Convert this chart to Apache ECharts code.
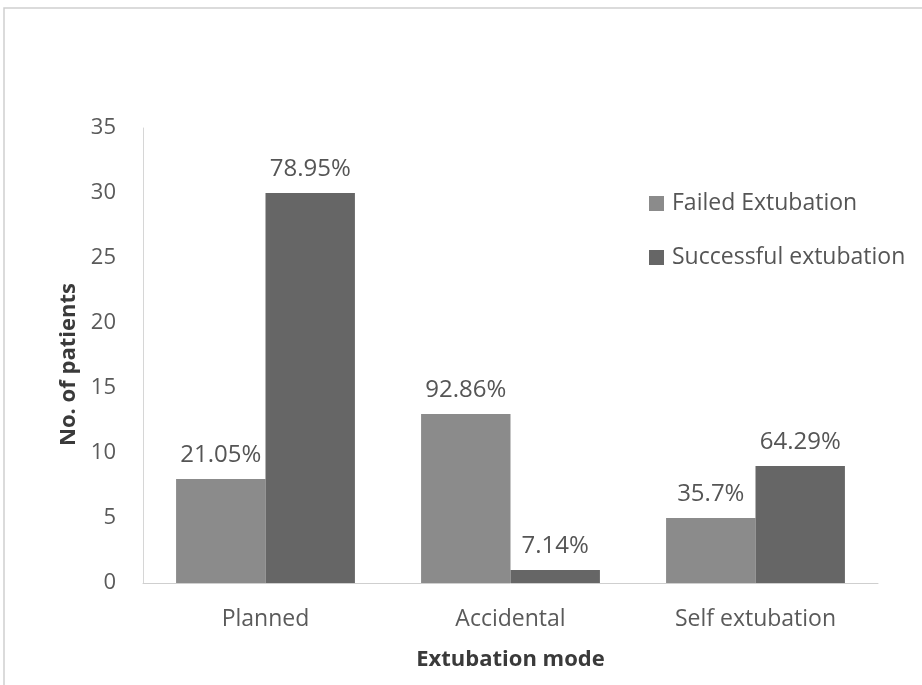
<!DOCTYPE html>
<html>
<head>
<meta charset="utf-8">
<script src="https://cdn.jsdelivr.net/npm/echarts@6/dist/echarts.min.js"></script>
<style>
  html, body { margin: 0; padding: 0; background: #fff; }
  #chart { width: 922px; height: 685px; }
</style>
</head>
<body>
<div id="chart"></div>
<script>
// Extubation outcome by mode
const categories = ['Planned', 'Accidental', 'Self extubation'];
const failed = [8, 13, 5];
const successful = [30, 1, 9];
const failedPct = ['21.05%', '92.86%', '35.7%'];
const successfulPct = ['78.95%', '7.14%', '64.29%'];
const yTicks = [0, 5, 10, 15, 20, 25, 30, 35];

const FONT = '"Open Sans", Lato, sans-serif';
const chart = echarts.init(document.getElementById('chart'));

chart.setOption({
  backgroundColor: '#fff',
  animation: false,
  graphic: [{
    type: 'rect',
    shape: { x: 4, y: 8, width: 940, height: 720 },
    style: { fill: 'none', stroke: '#cfcfcf', lineWidth: 1.5 },
    silent: true
  }],
  grid: { left: 143, right: 44, top: 128, bottom: 102 },
  legend: {
    orient: 'vertical',
    left: 644, top: 187,
    itemWidth: 15, itemHeight: 15, itemGap: 31,
    icon: 'rect',
    textStyle: { fontFamily: FONT, fontSize: 23, color: '#555', padding: [0, 0, 0, 3] },
    data: ['Failed Extubation', 'Successful extubation']
  },
  xAxis: {
    type: 'category',
    data: categories,
    name: 'Extubation mode',
    nameLocation: 'middle',
    nameGap: 66,
    nameTextStyle: { fontFamily: FONT, fontSize: 22, fontWeight: 'bold', color: '#3a3a3a' },
    axisLine: { lineStyle: { color: '#cfcfcf', width: 1 } },
    axisTick: { show: false },
    axisLabel: { fontFamily: FONT, fontSize: 23, color: '#5a5a5a', margin: 25 }
  },
  yAxis: {
    type: 'value',
    min: yTicks[0], max: yTicks[yTicks.length - 1], interval: 5,
    name: 'No. of patients',
    nameLocation: 'middle',
    nameGap: 57,
    nameTextStyle: { fontFamily: FONT, fontSize: 22, fontWeight: 'bold', color: '#3a3a3a', padding: [0, 18, 0, 0] },
    axisLine: { show: true, lineStyle: { color: '#d6d6d6', width: 1 } },
    axisTick: { show: false },
    splitLine: { show: false },
    axisLabel: { fontFamily: FONT, fontSize: 22, color: '#5a5a5a', margin: 27 }
  },
  series: [
    {
      name: 'Failed Extubation',
      type: 'bar',
      data: failed,
      barGap: '0%',
      barCategoryGap: '27%',
      itemStyle: { color: '#8b8b8b' },
      label: {
        show: true, position: 'top', distance: 12,
        fontFamily: FONT, fontSize: 24, color: '#555',
        formatter: p => failedPct[p.dataIndex]
      }
    },
    {
      name: 'Successful extubation',
      type: 'bar',
      data: successful,
      barGap: '0%',
      barCategoryGap: '27%',
      itemStyle: { color: '#666666' },
      label: {
        show: true, position: 'top', distance: 12,
        fontFamily: FONT, fontSize: 24, color: '#555',
        formatter: p => successfulPct[p.dataIndex]
      }
    }
  ]
});
</script>
</body>
</html>
